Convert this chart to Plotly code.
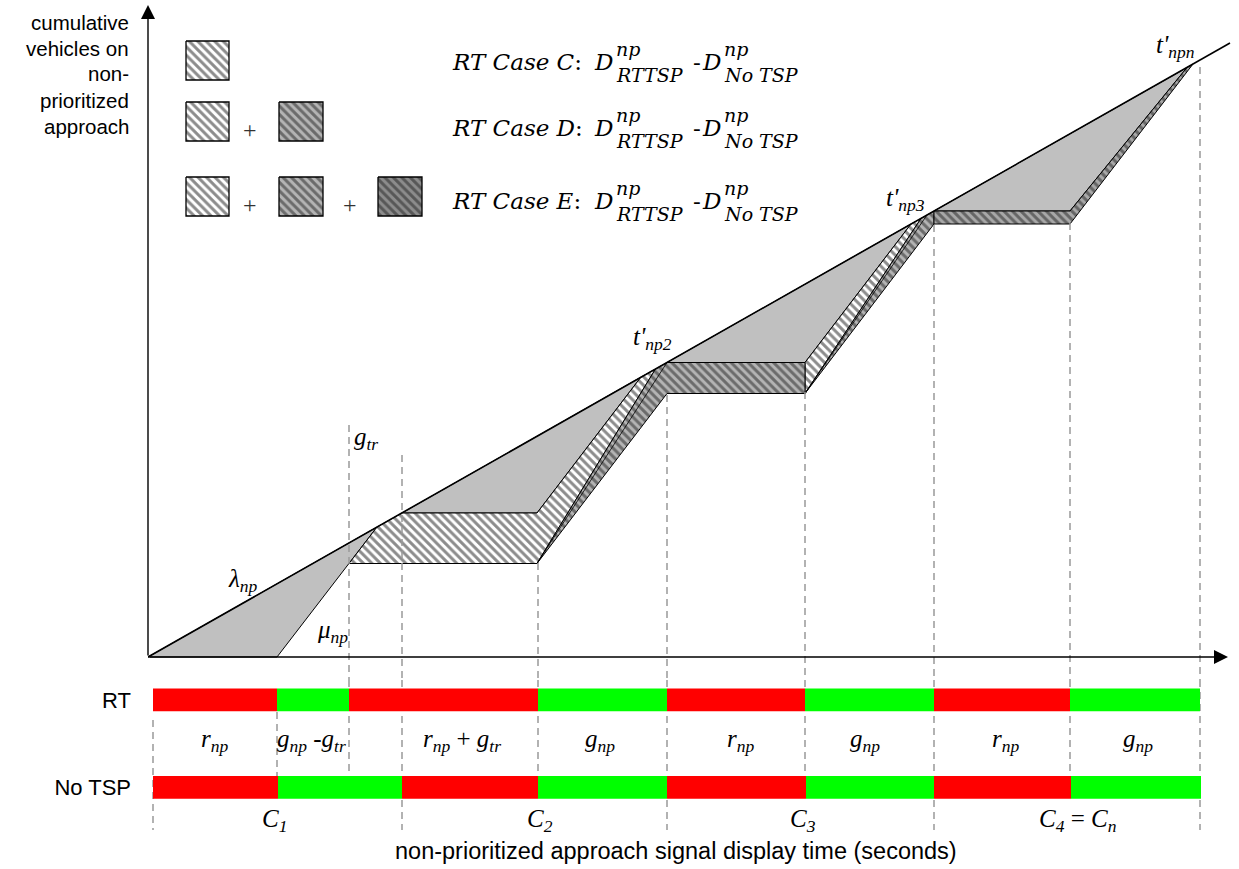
import plotly.graph_objects as go

# ---------------- data (time in s, cumulative vehicles) ----------------
arrival_t = [0.0, 432.8]
arrival_v = [0.0, 122.8]

# No-TSP delay areas (between arrival and No-TSP departure curve)
gray_t = [[0.0, 91.6, 51.6], [101.6, 197.2, 155.6], [207.6, 305.2, 262.8], [314.4, 415.6, 368.8]]
gray_v = [[0.0, 26.0, 0.0], [28.8, 56.0, 28.8], [58.9, 86.6, 58.9], [89.2, 117.9, 89.2]]

# RT Case C extra delay areas
caseC_t = [[80.4, 91.6, 101.6, 155.6, 197.2, 203.0, 155.6], [262.8, 305.2, 309.2, 262.8]]
caseC_v = [[18.7, 26.0, 28.8, 28.8, 56.0, 57.6, 18.7], [58.9, 86.6, 87.7, 52.7]]

# RT Case D extra delay areas
caseD_t = [[155.6, 203.0, 207.6, 262.8, 262.8, 207.6], [262.8, 309.2, 314.4, 314.4]]
caseD_v = [[18.7, 57.6, 58.9, 58.9, 52.7, 52.7], [52.7, 87.7, 89.2, 86.6]]

# RT Case E extra delay areas
caseE_t = [[314.4, 368.8, 415.6, 418.0, 368.8, 314.4]]
caseE_v = [[89.2, 89.2, 117.9, 118.6, 86.6, 86.6]]

# intermediate departure curves (thin lines)
mid_t = [[155.6, 207.6], [262.8, 311.6]]
mid_v = [[18.7, 58.9], [52.7, 88.4]]

# signal displays
rt_start = [2.0, 51.6, 80.4, 156.0, 207.6, 262.8, 314.4, 368.8]
rt_end = [51.6, 80.4, 156.0, 207.6, 262.8, 314.4, 368.8, 420.8]
rt_phase = ["red", "green", "red", "green", "red", "green", "red", "green"]
ntsp_start = [2.0, 52.0, 101.6, 156.0, 207.6, 263.2, 314.4, 369.2]
ntsp_end = [52.0, 101.6, 156.0, 207.6, 263.2, 314.4, 369.2, 421.2]
ntsp_phase = ["red", "green", "red", "green", "red", "green", "red", "green"]
signal_rows = ["No TSP", "RT"]

phase_labels = ["<i>r</i><sub><i>np</i></sub>",
                "<i>g</i><sub><i>np</i></sub> -<i>g</i><sub><i>tr</i></sub>",
                "<i>r</i><sub><i>np</i></sub> + <i>g</i><sub><i>tr</i></sub>",
                "<i>g</i><sub><i>np</i></sub>", "<i>r</i><sub><i>np</i></sub>",
                "<i>g</i><sub><i>np</i></sub>", "<i>r</i><sub><i>np</i></sub>",
                "<i>g</i><sub><i>np</i></sub>"]
phase_label_t = [26.4, 65.2, 125.6, 180.8, 236.8, 286.8, 342.8, 396.0]

cycle_labels = ["<i>C</i><sub><i>1</i></sub>", "<i>C</i><sub><i>2</i></sub>", "<i>C</i><sub><i>3</i></sub>",
                "<i>C</i><sub><i>4</i></sub> = <i>C</i><sub><i>n</i></sub>"]
cycle_label_t = [50.4, 156.8, 262.0, 372.0]

# dashed markers: time, top (px), bottom (px)
dash_t = [2.0, 51.6, 80.4, 101.6, 156.0, 207.6, 262.8, 314.4, 368.8, 420.8]
dash_top = [720, 712, 425, 455, 563, 395, 392, 225, 223, 67]
dash_bot = [830, 776, 777, 830, 777, 830, 777, 830, 777, 830]

legend_rows = ["C", "D", "E"]

# ---------------- layout constants ----------------
W, H = 1239, 869
X0PX, SX = 148, 2.5      # px of t=0, px per second
Y0PX, SY = 657, 5.0      # px of v=0, px per vehicle


def t_of(px):
    return (px - X0PX) / SX


def v_of(py):
    return (Y0PX - py) / SY


def pp(py):
    return 1 - py / H


SERIF = "Liberation Serif"
MATH = "DejaVu Serif"
SANS = "Liberation Sans"

STY = {
    "gray": dict(fillcolor="#c0c0c0"),
    "C": dict(fillpattern=dict(shape="\\", size=6, solidity=0.5, fgcolor="#1a1a1a", bgcolor="#ffffff")),
    "D": dict(fillpattern=dict(shape="\\", size=6, solidity=0.5, fgcolor="#222222", bgcolor="#b4b4b4")),
    "E": dict(fillpattern=dict(shape="\\", size=6, solidity=0.5, fgcolor="#222222", bgcolor="#8c8c8c")),
    "Eband": dict(fillpattern=dict(shape="\\", size=6, solidity=0.5, fgcolor="#222222", bgcolor="#a8a8a8")),
}

fig = go.Figure()


def poly(ts, vs, key):
    fig.add_trace(go.Scatter(x=ts + [ts[0]], y=vs + [vs[0]], mode="lines", fill="toself",
                             line=dict(color="black", width=1), hoverinfo="skip",
                             showlegend=False, **STY[key]))


for ts, vs in zip(gray_t, gray_v):
    poly(ts, vs, "gray")
for ts, vs in zip(caseC_t, caseC_v):
    poly(ts, vs, "C")
for ts, vs in zip(caseD_t, caseD_v):
    poly(ts, vs, "D")
for ts, vs in zip(caseE_t, caseE_v):
    poly(ts, vs, "Eband")
for ts, vs in zip(mid_t, mid_v):
    fig.add_trace(go.Scatter(x=ts, y=vs, mode="lines", line=dict(color="black", width=0.8),
                             hoverinfo="skip", showlegend=False))

fig.add_trace(go.Scatter(x=arrival_t, y=arrival_v, mode="lines", line=dict(color="black", width=1.6),
                         hoverinfo="skip", showlegend=False))

# legend swatches
box_cols = [(186, 229), (279, 323), (378, 422)]
box_rows = [(41, 80), (102, 141), (177, 216)]
keys_per_row = [["C"], ["C", "D"], ["C", "D", "E"]]
for (y0, y1), keys in zip(box_rows, keys_per_row):
    for (x0, x1), k in zip(box_cols, keys):
        ts = [t_of(x0), t_of(x1), t_of(x1), t_of(x0)]
        vs = [v_of(y0), v_of(y0), v_of(y1), v_of(y1)]
        fig.add_trace(go.Scatter(x=ts + [ts[0]], y=vs + [vs[0]], mode="lines", fill="toself",
                                 line=dict(color="black", width=1.3), hoverinfo="skip",
                                 showlegend=False, **STY[k]))

# signal bars
for starts, ends, phases, row in [(rt_start, rt_end, rt_phase, "RT"),
                                  (ntsp_start, ntsp_end, ntsp_phase, "No TSP")]:
    fig.add_trace(go.Bar(orientation="h", base=starts, x=[e - s for s, e in zip(starts, ends)],
                         y=[row] * len(starts), width=0.26,
                         marker=dict(color=["#ff0000" if p == "red" else "#00ff00" for p in phases],
                                     line=dict(width=0)),
                         yaxis="y2", hoverinfo="skip", showlegend=False))

shapes = []
for t, top, bot in zip(dash_t, dash_top, dash_bot):
    split = max(top, 680)
    if top < 680:
        shapes.append(dict(type="line", xref="x", yref="paper", x0=t, x1=t, y0=pp(top), y1=pp(680),
                           line=dict(color="#999999", width=1.5, dash="7px,5px"), layer="above"))
    shapes.append(dict(type="line", xref="x", yref="paper", x0=t, x1=t, y0=pp(split), y1=pp(bot),
                       line=dict(color="#999999", width=1.5, dash="7px,5px"), layer="below"))

ann = []


def text(s, px, py, size, family, xanchor="center", color="black"):
    ann.append(dict(text=s, x=px / W, y=pp(py), xref="paper", yref="paper", showarrow=False,
                    xanchor=xanchor, yanchor="middle", font=dict(size=size, family=family, color=color)))


# axes arrows
ann.append(dict(x=432, y=0, xref="x", yref="y", ax=0, ay=0, axref="x", ayref="y", text="",
                showarrow=True, arrowhead=2, arrowsize=2, arrowwidth=1.4, arrowcolor="black"))
ann.append(dict(x=0, y=130.4, xref="x", yref="y", ax=0, ay=0, axref="x", ayref="y", text="",
                showarrow=True, arrowhead=2, arrowsize=2, arrowwidth=1.4, arrowcolor="black"))

# y title
for i, line in enumerate(["cumulative", "vehicles on", "non-", "prioritized", "approach"]):
    text(line, 131, 22 + 26 * i, 20.5, SANS, xanchor="right")

# x title
text("non-prioritized approach signal display time (seconds)", 676, 851, 23.5, SANS)

# phase / cycle labels
for s, t in zip(phase_labels, phase_label_t):
    text(s, X0PX + t * SX, 740, 25, SERIF)
for s, t in zip(cycle_labels, cycle_label_t):
    text(s, X0PX + t * SX, 820, 25, SERIF)

# chart labels
for s, x, y in [("<i>λ</i><sub><i>np</i></sub>", 243, 580), ("<i>μ</i><sub><i>np</i></sub>", 333, 631),
                ("<i>g</i><sub><i>tr</i></sub>", 366, 438), ("<i>t'</i><sub><i>np2</i></sub>", 652, 338),
                ("<i>t'</i><sub><i>np3</i></sub>", 905, 199), ("<i>t'</i><sub><i>npn</i></sub>", 1175, 46)]:
    text(s, x, y, 25, SERIF)

# legend plus signs
for x, y in [(250, 130), (250, 205), (350, 205)]:
    text("+", x, y, 24, SERIF, color="#333333")

# legend equations
row_y = [62, 128, 201]
for lab, y in zip(legend_rows, row_y):
    text("<i>RT Case %s</i>:" % lab, 450, y, 23, MATH, xanchor="left")
    text("<i>D</i>", 592, y, 23, MATH, xanchor="left")
    text("<i>np</i>", 614, y - 13, 19, MATH, xanchor="left")
    text("<i>RTTSP</i>", 614, y + 13, 19, MATH, xanchor="left")
    text("-", 691, y, 23, MATH, xanchor="left")
    text("<i>D</i>", 700, y, 23, MATH, xanchor="left")
    text("<i>np</i>", 722, y - 13, 19, MATH, xanchor="left")
    text("<i>No TSP</i>", 722, y + 13, 19, MATH, xanchor="left")

fig.update_layout(
    width=W, height=H, margin=dict(l=0, r=0, t=0, b=0),
    paper_bgcolor="white", plot_bgcolor="white", barmode="overlay",
    xaxis=dict(domain=[X0PX / W, 1], range=[0, (W - X0PX) / SX], visible=False),
    yaxis=dict(domain=[1 - 660 / H, 1], range=[-0.6, 131.4], visible=False),
    yaxis2=dict(domain=[0, 1 - 660 / H], range=[-0.9314, 1.457], type="category",
                categoryorder="array", categoryarray=signal_rows, anchor="x",
                showgrid=False, zeroline=False, showline=False, ticks="",
                tickfont=dict(size=22, family=SANS, color="black"), ticklabelstandoff=16),
    shapes=shapes, annotations=ann,
)

fig.write_html("out.html", config={"displayModeBar": False},
               post_script="document.body.style.margin='0px';")
